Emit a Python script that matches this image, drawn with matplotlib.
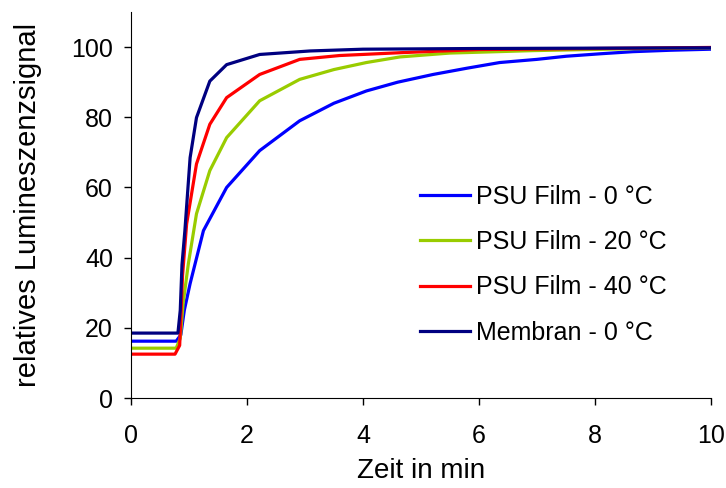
import matplotlib.pyplot as plt

plt.rcParams['font.family'] = ['Liberation Sans', 'DejaVu Sans']

# readings (time in min, relative signal)
t_psu0 = [0, 0.78, 0.86, 0.92, 1.02, 1.25, 1.65, 2.22, 2.91, 3.5, 4.06, 4.6, 5.21,
          5.8, 6.36, 7.0, 7.51, 8.1, 8.66, 9.3, 10]
y_psu0 = [16.2, 16.2, 18, 25, 32.6, 47.7, 60, 70.5, 79, 84, 87.5, 90, 92.2,
          94, 95.6, 96.5, 97.4, 98.1, 98.7, 99.1, 99.4]

t_psu20 = [0, 0.78, 0.85, 0.9, 0.99, 1.13, 1.36, 1.65, 2.22, 2.91, 3.5, 4.06,
           4.64, 5.5, 6.94, 8.5, 10]
y_psu20 = [14.2, 14.2, 17, 27, 38.3, 52.5, 64.8, 74.2, 84.7, 90.8, 93.6, 95.6,
           97.2, 98.3, 99.0, 99.5, 99.8]

t_psu40 = [0, 0.76, 0.84, 0.89, 0.96, 1.13, 1.36, 1.65, 2.22, 2.91, 3.6, 4.64,
           6.0, 8.0, 10]
y_psu40 = [12.5, 12.5, 15, 35, 49.6, 66.7, 78, 85.6, 92.2, 96.5, 97.6, 98.4,
           99.3, 99.6, 99.9]

t_memb = [0, 0.81, 0.85, 0.88, 0.93, 1.02, 1.13, 1.36, 1.65, 2.22, 3.09, 4.0,
          6.0, 8.0, 10]
y_memb = [18.5, 18.5, 25, 38, 47.7, 68.5, 79.9, 90.3, 95, 97.9, 98.9, 99.4,
          99.6, 99.7, 99.8]

labels = ['PSU Film - 0 °C', 'PSU Film - 20 °C', 'PSU Film - 40 °C', 'Membran - 0 °C']
colors = ['#0000FF', '#99CC00', '#FF0000', '#000080']

fig = plt.figure(figsize=(7.26, 4.88), dpi=100)
ax = fig.add_axes([0.1804, 0.1844, 0.7986, 0.791])

series = [(t_psu0, y_psu0), (t_psu20, y_psu20), (t_psu40, y_psu40), (t_memb, y_memb)]
for (t, y), lab, c in zip(series, labels, colors):
    ax.plot(t, y, color=c, lw=2.3, label=lab)

ax.set_xlim(0, 10)
ax.set_ylim(0, 110)
ax.set_xticks(range(0, 11, 2))
ax.set_yticks(range(0, 101, 20))
ax.tick_params(direction='out', length=5, width=1, labelsize=18, color='black')
ax.tick_params(axis='x', pad=14)
ax.tick_params(axis='y', pad=8)
ax.spines['top'].set_visible(False)
ax.spines['right'].set_visible(False)
ax.set_xlabel('Zeit in min', fontsize=20, labelpad=7)
ax.set_ylabel('relatives Lumineszenzsignal', fontsize=21, labelpad=21)

ax.legend(loc='upper left', bbox_to_anchor=(0.481, 0.578), frameon=False, fontsize=18,
          handlelength=2.0, handletextpad=0.25, labelspacing=0.85, borderaxespad=0)

fig.savefig('out.png', dpi=100)
